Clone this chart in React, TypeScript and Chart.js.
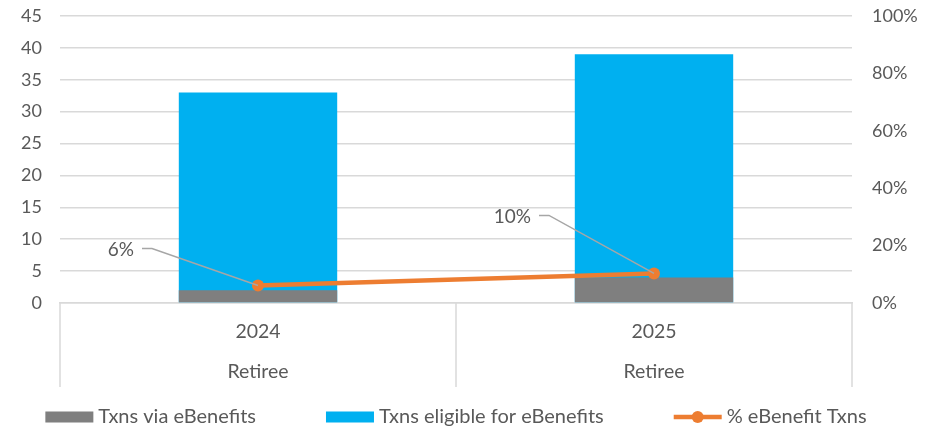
import React, { useEffect, useRef } from 'react';
import { Chart, registerables } from 'chart.js';

Chart.register(...registerables);

// ---- data ----
const years = ['2024', '2025'];
const segments = ['Retiree', 'Retiree'];
const viaEBenefits = [2, 4];
const eligibleForEBenefits = [33, 39];
const pctEBenefitTxns = [6.1, 10.3];
const seriesNames = ['Txns via eBenefits', 'Txns eligible for eBenefits', '% eBenefit Txns'];
const leftAxis = { min: 0, max: 45, step: 5 };
const rightAxis = { min: 0, max: 100, step: 20 };

// ---- style ----
const GREY = '#7f7f7f';
const BLUE = '#00b0f0';
const ORANGE = '#ed7d31';
const GRID = '#d9d9d9';
const TEXT = '#595959';
const LEADER = '#a6a6a6';
const FONT = 'Lato, "Open Sans", sans-serif';
const NUM_SIZE = 18;
const WORD_SIZE = 20;
const labelAnchors = [
  [-116, -37],
  [-115, -58],
];

const separatorPlugin = {
  id: 'separators',
  afterDraw(chart: any) {
    const x = chart.scales.x;
    const ctx = chart.ctx;
    const bottom = chart.chartArea.bottom;
    ctx.save();
    ctx.strokeStyle = GRID;
    ctx.lineWidth = 1.5;
    for (let i = 0; i <= years.length; i++) {
      const px = x.getPixelForValue(i - 0.5);
      ctx.beginPath();
      ctx.moveTo(px, bottom);
      ctx.lineTo(px, bottom + 84);
      ctx.stroke();
    }
    ctx.restore();
  },
};

const dataLabelPlugin = {
  id: 'pctLabels',
  afterDatasetsDraw(chart: any) {
    const meta = chart.getDatasetMeta(2);
    const ctx = chart.ctx;
    ctx.save();
    meta.data.forEach((pt: any, i: number) => {
      const [dx, dy] = labelAnchors[i];
      const sx = pt.x + dx;
      const sy = pt.y + dy;
      ctx.strokeStyle = LEADER;
      ctx.lineWidth = 1.5;
      ctx.beginPath();
      ctx.moveTo(sx, sy);
      ctx.lineTo(sx + 10, sy);
      ctx.lineTo(pt.x, pt.y);
      ctx.stroke();
      ctx.fillStyle = TEXT;
      ctx.font = `${NUM_SIZE + 1}px ${FONT}`;
      ctx.textAlign = 'right';
      ctx.textBaseline = 'middle';
      ctx.fillText(Math.round(pctEBenefitTxns[i]) + '%', sx - 8, sy + 1);
    });
    ctx.restore();
  },
};

const legendPlugin = {
  id: 'customLegend',
  afterDraw(chart: any) {
    const ctx = chart.ctx;
    const boxW = 48;
    const textGap = 5;
    const itemGap = 70;
    const y = chart.height - 14;
    ctx.save();
    ctx.font = `${WORD_SIZE}px ${FONT}`;
    const widths = seriesNames.map((t) => boxW + textGap + ctx.measureText(t).width);
    const total = widths.reduce((a, b) => a + b, 0) + itemGap * (widths.length - 1);
    let x = (chart.chartArea.left + chart.chartArea.right) / 2 - total / 2;
    seriesNames.forEach((t, i) => {
      if (i === 0 || i === 1) {
        ctx.fillStyle = i === 0 ? GREY : BLUE;
        ctx.fillRect(x, y - 5.5, boxW, 11);
      } else {
        ctx.strokeStyle = ORANGE;
        ctx.lineWidth = 4.5;
        ctx.beginPath();
        ctx.moveTo(x, y);
        ctx.lineTo(x + boxW, y);
        ctx.stroke();
        ctx.fillStyle = ORANGE;
        ctx.beginPath();
        ctx.arc(x + boxW / 2, y, 6, 0, Math.PI * 2);
        ctx.fill();
      }
      ctx.fillStyle = TEXT;
      ctx.textAlign = 'left';
      ctx.textBaseline = 'middle';
      ctx.fillText(t, x + boxW + textGap, y);
      x += widths[i] + itemGap;
    });
    ctx.restore();
  },
};

export default function App() {
  const ref = useRef<HTMLCanvasElement | null>(null);

  useEffect(() => {
    if (!ref.current) return;
    const chart = new Chart(ref.current, {
      type: 'bar',
      data: {
        labels: years.map((y, i) => [y, segments[i]]),
        datasets: [
          {
            type: 'bar',
            label: seriesNames[0],
            data: viaEBenefits,
            backgroundColor: GREY,
            borderWidth: 0,
            grouped: false,
            barPercentage: 0.4,
            categoryPercentage: 1,
            yAxisID: 'y',
            order: 1,
          },
          {
            type: 'bar',
            label: seriesNames[1],
            data: eligibleForEBenefits,
            backgroundColor: BLUE,
            borderWidth: 0,
            grouped: false,
            barPercentage: 0.4,
            categoryPercentage: 1,
            yAxisID: 'y',
            order: 2,
          },
          {
            type: 'line',
            label: seriesNames[2],
            data: pctEBenefitTxns,
            borderColor: ORANGE,
            backgroundColor: ORANGE,
            borderWidth: 4.5,
            pointRadius: 6,
            pointBorderWidth: 0,
            pointBackgroundColor: ORANGE,
            yAxisID: 'y1',
            order: 0,
          },
        ] as any,
      },
      options: {
        animation: false,
        responsive: true,
        maintainAspectRatio: false,
        layout: { padding: { top: 16, left: 0, right: 0, bottom: 30 } },
        plugins: {
          legend: { display: false },
          tooltip: { enabled: false },
        },
        scales: {
          x: {
            offset: true,
            grid: { display: false },
            border: { display: true, color: GRID, width: 1.5 },
            ticks: {
              color: TEXT,
              font: { family: FONT, size: 19.5, lineHeight: '40px' as any },
              padding: 1,
              maxRotation: 0,
            },
            afterFit: (s: any) => {
              s.height = 98;
            },
          },
          y: {
            position: 'left',
            min: leftAxis.min,
            max: leftAxis.max,
            grid: {
              color: GRID,
              lineWidth: 1.5,
              drawTicks: true,
              tickLength: 18,
              tickColor: 'rgba(0,0,0,0)',
            },
            border: { display: false },
            ticks: {
              stepSize: leftAxis.step,
              color: TEXT,
              font: { family: FONT, size: NUM_SIZE },
              padding: 0,
            },
            afterFit: (s: any) => {
              s.width = 60;
            },
          },
          y1: {
            position: 'right',
            min: rightAxis.min,
            max: rightAxis.max,
            grid: {
              display: true,
              drawOnChartArea: false,
              drawTicks: true,
              tickLength: 20,
              tickColor: 'rgba(0,0,0,0)',
            },
            border: { display: false },
            ticks: {
              stepSize: rightAxis.step,
              color: TEXT,
              font: { family: FONT, size: NUM_SIZE },
              padding: 0,
              callback: (v: any) => v + '%',
            },
            afterFit: (s: any) => {
              s.width = 73;
            },
          },
        },
      },
      plugins: [separatorPlugin, dataLabelPlugin, legendPlugin],
    });
    return () => chart.destroy();
  }, []);

  return (
    <div style={{ position: 'fixed', left: 0, top: 0, width: 925, height: 431, background: '#fff' }}>
      <canvas ref={ref} />
    </div>
  );
}
